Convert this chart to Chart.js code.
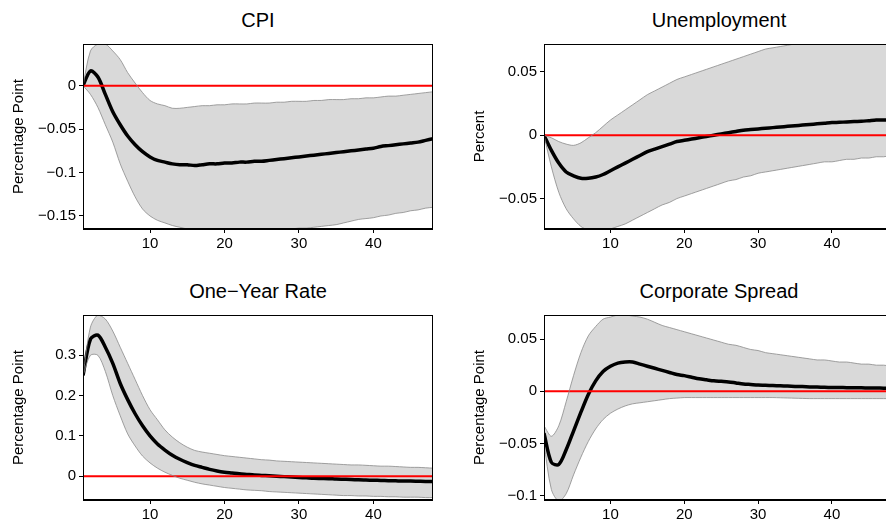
<!DOCTYPE html>
<html><head><meta charset="utf-8">
<script src="https://cdn.jsdelivr.net/npm/chart.js@4.4.0/dist/chart.umd.min.js"></script>
<style>
html,body{margin:0;padding:0;background:#fff;overflow:hidden;width:886px;height:529px;}
.p{position:absolute;}
.t{position:absolute;font-family:"Liberation Sans",Arial,sans-serif;font-size:20px;color:#000;text-align:center;width:350px;}
</style></head><body>
<div class="t" style="left:83px;top:9px">CPI</div>
<div class="t" style="left:544px;top:9px">Unemployment</div>
<div class="t" style="left:83px;top:280px">One−Year Rate</div>
<div class="t" style="left:544px;top:280px">Corporate Spread</div>
<div class="p" style="left:0;top:32px"><canvas id="c1" width="433" height="227"></canvas></div>
<div class="p" style="left:461px;top:32px"><canvas id="c2" width="430" height="227"></canvas></div>
<div class="p" style="left:0;top:303px"><canvas id="c3" width="433" height="227"></canvas></div>
<div class="p" style="left:461px;top:303px"><canvas id="c4" width="430" height="227"></canvas></div>
<script>
const horizons = Array.from({length:48},(_,i)=>i+1);
const xTicks = [10,20,30,40];

const cpiMean = [0,0.017,0.01,-0.01,-0.03,-0.045,-0.058,-0.068,-0.076,-0.082,-0.086,-0.088,-0.09,-0.091,-0.091,-0.092,-0.091,-0.09,-0.09,-0.089,-0.089,-0.088,-0.088,-0.087,-0.087,-0.086,-0.085,-0.084,-0.083,-0.082,-0.081,-0.08,-0.079,-0.078,-0.077,-0.076,-0.075,-0.074,-0.073,-0.072,-0.07,-0.069,-0.068,-0.067,-0.066,-0.065,-0.063,-0.061];
const cpiUp = [0,0.04,0.048,0.048,0.04,0.03,0.015,0.003,-0.008,-0.017,-0.021,-0.023,-0.026,-0.026,-0.025,-0.024,-0.023,-0.023,-0.022,-0.022,-0.021,-0.021,-0.021,-0.02,-0.02,-0.02,-0.019,-0.019,-0.018,-0.018,-0.018,-0.017,-0.017,-0.016,-0.016,-0.016,-0.015,-0.015,-0.014,-0.014,-0.013,-0.012,-0.012,-0.011,-0.01,-0.009,-0.008,-0.007];
const cpiLo = [0,-0.01,-0.025,-0.045,-0.065,-0.09,-0.11,-0.128,-0.142,-0.15,-0.155,-0.158,-0.161,-0.163,-0.165,-0.166,-0.167,-0.167,-0.167,-0.167,-0.167,-0.167,-0.167,-0.167,-0.167,-0.167,-0.166,-0.166,-0.165,-0.164,-0.164,-0.163,-0.162,-0.161,-0.16,-0.158,-0.156,-0.154,-0.153,-0.152,-0.15,-0.149,-0.147,-0.146,-0.144,-0.143,-0.141,-0.14];

const unMean = [0,-0.012,-0.022,-0.029,-0.032,-0.034,-0.034,-0.033,-0.031,-0.028,-0.025,-0.022,-0.019,-0.016,-0.013,-0.011,-0.009,-0.007,-0.005,-0.004,-0.003,-0.002,-0.001,0,0.001,0.002,0.003,0.004,0.0045,0.005,0.0055,0.006,0.0065,0.007,0.0075,0.008,0.0085,0.009,0.0095,0.01,0.0102,0.0105,0.0108,0.011,0.0115,0.012,0.012,0.012];
const unUp = [0,-0.002,-0.005,-0.007,-0.008,-0.006,-0.002,0.002,0.007,0.012,0.016,0.02,0.024,0.028,0.032,0.035,0.038,0.041,0.044,0.046,0.048,0.05,0.052,0.054,0.056,0.058,0.06,0.062,0.064,0.066,0.068,0.069,0.07,0.071,0.072,0.072,0.073,0.073,0.073,0.073,0.073,0.073,0.073,0.073,0.073,0.073,0.073,0.073];
const unLo = [0,-0.025,-0.045,-0.058,-0.066,-0.072,-0.075,-0.076,-0.076,-0.074,-0.072,-0.07,-0.067,-0.064,-0.061,-0.058,-0.055,-0.053,-0.05,-0.048,-0.046,-0.044,-0.042,-0.04,-0.038,-0.036,-0.035,-0.033,-0.032,-0.03,-0.029,-0.028,-0.027,-0.026,-0.025,-0.024,-0.023,-0.022,-0.021,-0.021,-0.02,-0.019,-0.019,-0.018,-0.018,-0.017,-0.017,-0.016];

const oyMean = [0.25,0.34,0.35,0.32,0.28,0.23,0.19,0.155,0.125,0.1,0.08,0.065,0.052,0.042,0.034,0.027,0.022,0.017,0.013,0.01,0.008,0.006,0.0045,0.003,0.002,0.001,0,-0.001,-0.002,-0.003,-0.004,-0.005,-0.0055,-0.006,-0.007,-0.0075,-0.008,-0.009,-0.0095,-0.01,-0.0105,-0.011,-0.0115,-0.012,-0.012,-0.0125,-0.013,-0.013];
const oyUp = [0.25,0.37,0.4,0.39,0.36,0.32,0.28,0.24,0.2,0.165,0.14,0.115,0.097,0.083,0.072,0.064,0.06,0.057,0.054,0.051,0.049,0.047,0.045,0.043,0.041,0.04,0.038,0.037,0.036,0.035,0.034,0.033,0.032,0.031,0.03,0.029,0.028,0.028,0.027,0.026,0.025,0.025,0.024,0.023,0.022,0.022,0.021,0.02];
const oyLo = [0.25,0.3,0.3,0.26,0.2,0.15,0.105,0.075,0.05,0.033,0.02,0.01,0.002,-0.005,-0.01,-0.015,-0.019,-0.022,-0.025,-0.028,-0.03,-0.032,-0.034,-0.035,-0.036,-0.038,-0.039,-0.04,-0.041,-0.042,-0.043,-0.044,-0.045,-0.046,-0.047,-0.048,-0.048,-0.049,-0.049,-0.05,-0.05,-0.051,-0.051,-0.052,-0.052,-0.052,-0.053,-0.053];

const csMean = [-0.04,-0.068,-0.07,-0.056,-0.038,-0.02,-0.003,0.01,0.019,0.024,0.027,0.028,0.028,0.026,0.024,0.022,0.02,0.018,0.016,0.015,0.0135,0.012,0.011,0.01,0.0095,0.009,0.008,0.007,0.0065,0.006,0.0058,0.0055,0.0052,0.005,0.0047,0.0045,0.0042,0.004,0.0038,0.0037,0.0036,0.0035,0.0034,0.0033,0.0032,0.0031,0.003,0.003];
const csUp = [-0.033,-0.043,-0.033,-0.01,0.015,0.037,0.053,0.062,0.069,0.071,0.073,0.073,0.072,0.071,0.069,0.066,0.063,0.061,0.059,0.057,0.055,0.053,0.051,0.049,0.047,0.045,0.044,0.042,0.04,0.039,0.037,0.036,0.035,0.034,0.033,0.032,0.031,0.03,0.03,0.029,0.028,0.028,0.027,0.026,0.026,0.025,0.025,0.024];
const csLo = [-0.05,-0.094,-0.105,-0.098,-0.08,-0.063,-0.048,-0.036,-0.027,-0.021,-0.017,-0.014,-0.012,-0.011,-0.01,-0.009,-0.008,-0.007,-0.0065,-0.006,-0.006,-0.006,-0.006,-0.006,-0.006,-0.006,-0.006,-0.006,-0.006,-0.006,-0.006,-0.006,-0.0062,-0.0064,-0.0066,-0.0068,-0.007,-0.007,-0.007,-0.007,-0.007,-0.007,-0.007,-0.007,-0.007,-0.007,-0.007,-0.007];

const boxPlugin = {id:'box', afterDraw(c){const a=c.chartArea,g=c.ctx;g.save();g.strokeStyle='#000';g.lineWidth=1;g.strokeRect(a.left+0.5,a.top+0.5,a.right-a.left-1,a.bottom-a.top-1);g.restore();}};

function pts(arr){return arr.map((v,i)=>({x:horizons[i],y:v}));}
function make(id, mean, up, lo, ymin, ymax, yTicks, yLabel){
  new Chart(document.getElementById(id), {
    type:'line',
    data:{datasets:[
      {data:pts(up), borderColor:'#8a8a8a', borderWidth:0.8, backgroundColor:'#d9d9d9', fill:'+1', pointRadius:0, tension:0.3},
      {data:pts(lo), borderColor:'#8a8a8a', borderWidth:0.8, fill:false, pointRadius:0, tension:0.3},
      {data:horizons.map(x=>({x:x,y:0})), borderColor:'#ff0000', borderWidth:2, fill:false, pointRadius:0},
      {data:pts(mean), borderColor:'#000', borderWidth:3.5, fill:false, pointRadius:0, tension:0.3}
    ]},
    options:{
      responsive:false, animation:false, events:[],
      layout:{padding:{top:10,right:0,left:0,bottom:0}},
      plugins:{legend:{display:false}, tooltip:{enabled:false}, filler:{drawTime:'beforeDatasetsDraw'}},
      scales:{
        x:{type:'linear', min:1, max:48,
           afterBuildTicks:s=>{s.ticks=xTicks.map(v=>({value:v}));},
           afterFit:s=>{s.height=30;},
           grid:{drawOnChartArea:false, tickLength:4, color:'#000'}, border:{color:'#000'},
           ticks:{color:'#000', font:{family:'Liberation Sans', size:15}, maxRotation:0, padding:2}},
        y:{min:ymin, max:ymax,
           afterBuildTicks:s=>{s.ticks=yTicks.map(v=>({value:v}));},
           afterFit:s=>{s.width=83;},
           grid:{drawOnChartArea:false, tickLength:4, color:'#000'}, border:{color:'#000'},
           title:{display:true, text:yLabel, color:'#000', font:{family:'Liberation Sans', size:15}, padding:{top:10,bottom:4}},
           ticks:{color:'#000', font:{family:'Liberation Sans', size:15}, padding:3,
                  callback:v=>String(v).replace('-','−')}}
      }
    },
    plugins:[boxPlugin]
  });
}
make('c1', cpiMean, cpiUp, cpiLo, -0.165, 0.048, [-0.15,-0.1,-0.05,0], 'Percentage Point');
make('c2', unMean, unUp, unLo, -0.074, 0.072, [-0.05,0,0.05], 'Percent');
make('c3', oyMean, oyUp, oyLo, -0.059, 0.40, [0,0.1,0.2,0.3], 'Percentage Point');
make('c4', csMean, csUp, csLo, -0.104, 0.073, [-0.1,-0.05,0,0.05], 'Percentage Point');
</script>
</body></html>
